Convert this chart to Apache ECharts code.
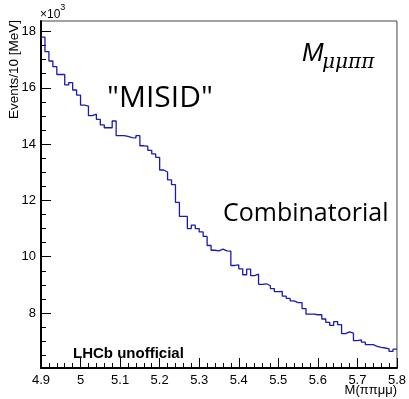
<!DOCTYPE html>
<html>
<head>
<meta charset="utf-8">
<script src="https://cdn.jsdelivr.net/npm/echarts@6/dist/echarts.min.js"></script>
<style>html,body{margin:0;padding:0;background:#fff}#c{width:409px;height:399px}</style>
</head>
<body>
<div id="c"></div>
<script>
// Histogram: 90 bins of 10 MeV from 4.9 to 5.8 GeV, values in units of 10^3 events
const xLow = 4.9;
const binWidth = 0.01;
const counts = [
  17.80, 17.28, 16.95, 16.75, 16.47, 16.47, 16.10, 16.18, 15.92, 15.74,
  15.38, 15.35, 15.01, 15.06, 14.88, 14.68, 14.58, 14.58, 14.82, 14.30,
  14.30, 14.27, 14.23, 14.22, 14.30, 13.94, 13.93, 13.78, 13.65, 13.53,
  13.08, 13.01, 12.73, 12.56, 11.93, 11.43, 11.43, 11.00, 11.12, 11.00,
  10.88, 10.72, 10.40, 10.23, 10.21, 10.27, 10.21, 10.20, 9.69, 9.71,
  9.57, 9.36, 9.56, 9.33, 9.38, 9.02, 9.04, 8.97, 8.87, 8.76,
  8.77, 8.60, 8.52, 8.43, 8.37, 8.37, 8.16, 7.96, 7.96, 7.94,
  7.94, 7.79, 7.67, 7.56, 7.70, 7.59, 7.27, 7.33, 7.29, 7.02,
  7.05, 6.97, 6.88, 6.88, 6.82, 6.78, 6.76, 6.73, 6.64, 6.72
];
const xTicks = [4.9, 5.0, 5.1, 5.2, 5.3, 5.4, 5.5, 5.6, 5.7, 5.8];
const yTicks = [8, 10, 12, 14, 16, 18];
const xTitle = 'M(ππμμ)';
const yTitle = 'Events/10 [MeV]';

const xMinor = [];
for (let i = 0; i <= 45; i++) xMinor.push(+(4.9 + i * 0.02).toFixed(2));
const yMinor = [];
for (let i = 0; i <= 24; i++) yMinor.push(6.5 + i * 0.5);

const stepData = counts.map((v, i) => [+(xLow + i * binWidth).toFixed(3), v]);
stepData.push([+(xLow + counts.length * binWidth).toFixed(3), counts[counts.length - 1]]);

const F = '"Liberation Sans", Arial, sans-serif';
const chart = echarts.init(document.getElementById('c'), null, {renderer: 'canvas'});
const yMin = 6.05, yMax = 18.37;
chart.setOption({
  animation: false,
  grid: {left: 41, right: 12, top: 21, bottom: 31, show: true, borderColor: '#444', borderWidth: 1, backgroundColor: 'transparent'},
  xAxis: [{
    type: 'value', min: 4.9, max: 5.8,
    axisLine: {show: true, onZero: false, lineStyle: {color: '#000', width: 2}},
    axisTick: {show: true, inside: true, length: 10, customValues: xTicks, lineStyle: {color: '#000', width: 1}},
    axisLabel: {show: true, customValues: xTicks, margin: 6, fontSize: 13, fontFamily: F, color: '#000',
      formatter: v => String(+(+v).toFixed(2))},
    splitLine: {show: false}
  }, {
    type: 'value', min: 4.9, max: 5.8, position: 'bottom',
    axisLine: {show: false},
    axisTick: {show: true, inside: true, length: 5, customValues: xMinor, lineStyle: {color: '#000', width: 1}},
    axisLabel: {show: false}, splitLine: {show: false}
  }],
  yAxis: [{
    type: 'value', min: yMin, max: yMax,
    axisLine: {show: true, onZero: false, lineStyle: {color: '#000', width: 2}},
    axisTick: {show: true, inside: true, length: 10, customValues: yTicks, lineStyle: {color: '#000', width: 1}},
    axisLabel: {show: true, customValues: yTicks, margin: 5, fontSize: 13, fontFamily: F, color: '#000'},
    splitLine: {show: false}
  }, {
    type: 'value', min: yMin, max: yMax, position: 'left',
    axisLine: {show: false},
    axisTick: {show: true, inside: true, length: 5, customValues: yMinor, lineStyle: {color: '#000', width: 1}},
    axisLabel: {show: false}, splitLine: {show: false}
  }],
  series: [{
    type: 'line', step: 'end', data: stepData, xAxisIndex: 0, yAxisIndex: 0,
    symbol: 'none', lineStyle: {color: '#1a1ab4', width: 1.3}, silent: true
  }],
  graphic: [
    {type: 'text', x: 40, y: 3, style: {text: '{a|×10}{b|3}', rich: {
      a: {fontSize: 12, fontFamily: F, fill: '#000', verticalAlign: 'bottom', padding: [6, 0, 0, 0]},
      b: {fontSize: 9, fontFamily: F, fill: '#000', verticalAlign: 'top'}}}},
    {type: 'text', x: 21, y: 20, rotation: Math.PI / 2, style: {text: yTitle, font: '13.5px ' + F, fill: '#000', align: 'right', verticalAlign: 'bottom', textAlign: 'right', textVerticalAlign: 'bottom'}},
    {type: 'text', x: 397, y: 384, style: {text: xTitle, font: '13px ' + F, fill: '#000', align: 'right', verticalAlign: 'top', textAlign: 'right', textVerticalAlign: 'top'}},
    {type: 'text', x: 302, y: 41, style: {text: 'M', font: 'italic 26px ' + F, fill: '#000'}},
    {type: 'text', x: 322, y: 53, style: {text: 'μμππ', font: 'italic 20px "DejaVu Serif", serif', fill: '#000'}},
    {type: 'text', x: 107, y: 83, style: {text: '"MISID"', font: '30px "Open Sans", sans-serif', fill: '#000'}},
    {type: 'text', x: 223, y: 201, style: {text: 'Combinatorial', font: '25px "Open Sans", sans-serif', fill: '#000'}},
    {type: 'text', x: 73, y: 346, style: {text: 'LHCb unofficial', font: 'bold 15px ' + F, fill: '#000'}}
  ]
});
</script>
</body>
</html>
